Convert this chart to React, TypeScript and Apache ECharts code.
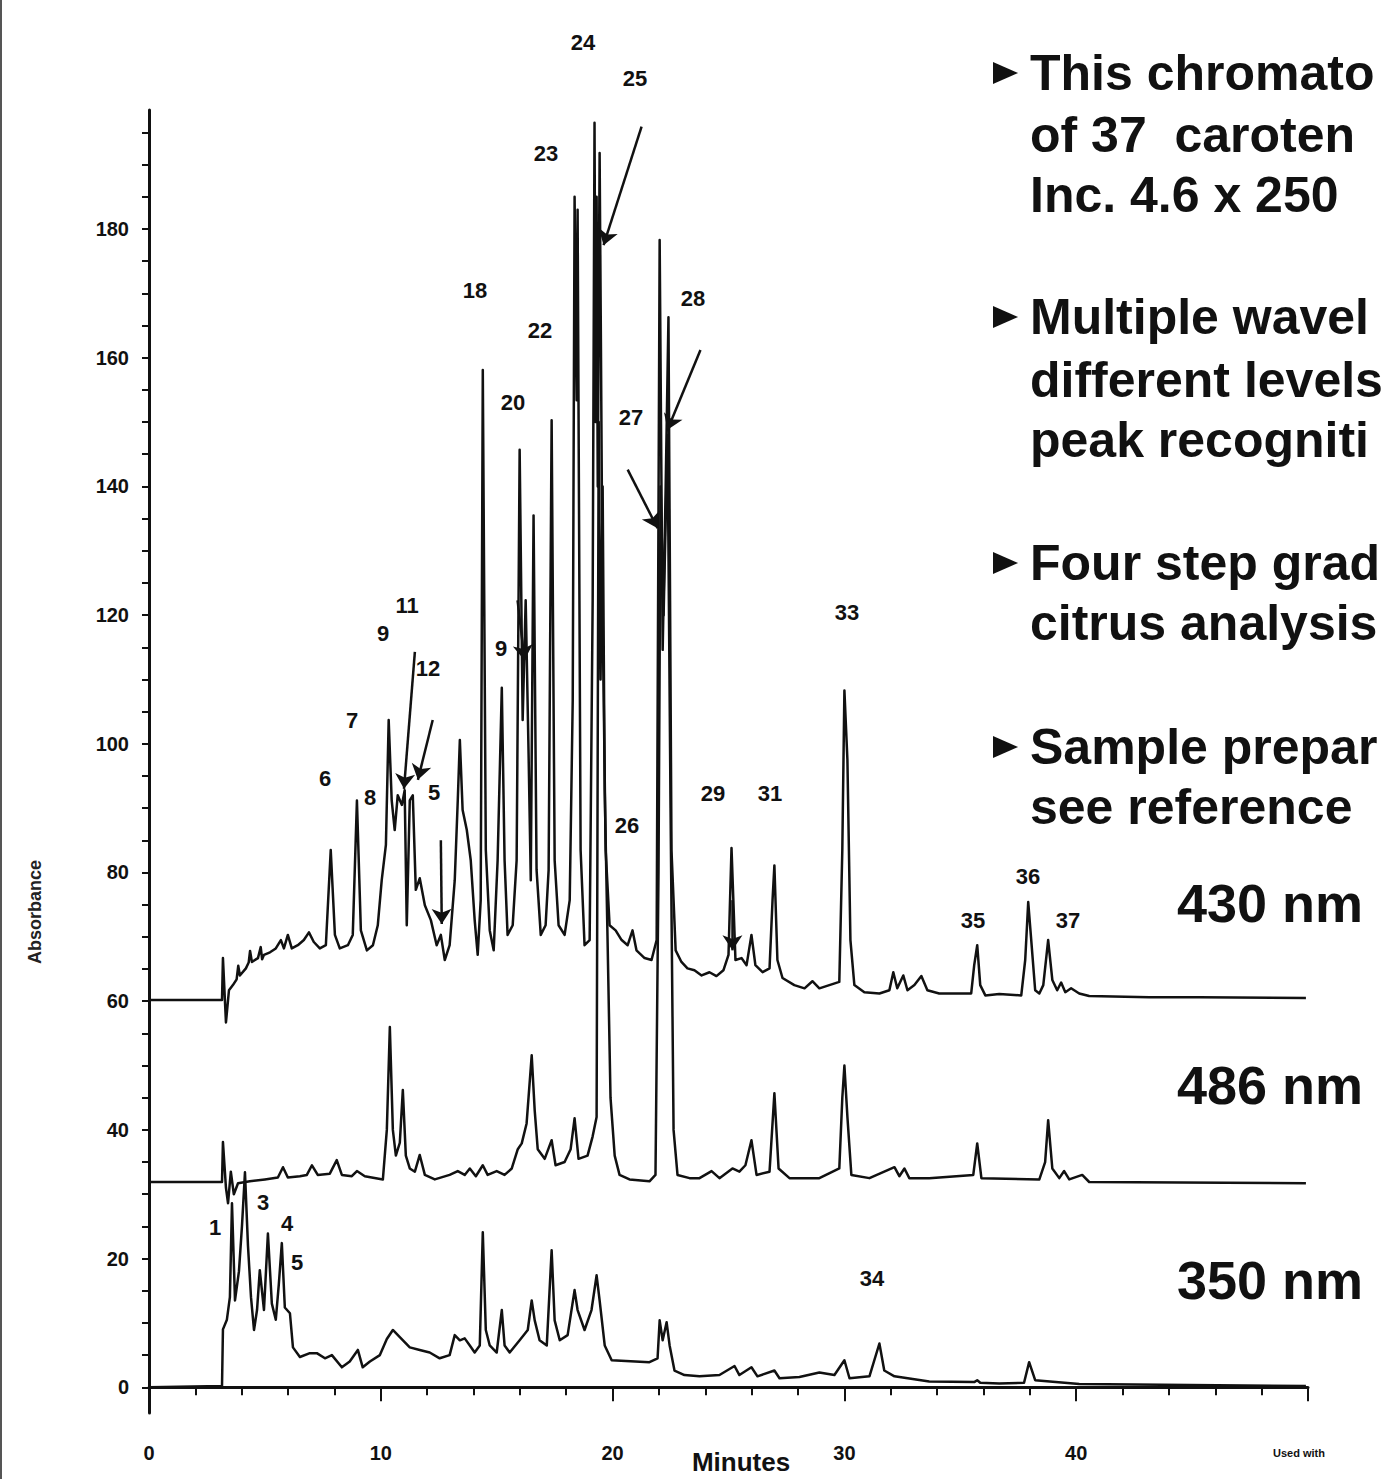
import React, { useEffect, useRef } from "react";
import * as echarts from "echarts";

// ---- 430 nm trace (minutes, absorbance) ----
const t430 = [0, 3.15, 3.19, 3.32, 3.45, 3.62, 3.78, 3.85, 3.92, 4.18, 4.3, 4.36, 4.44, 4.7, 4.82, 4.88, 4.96, 5.22, 5.47, 5.69, 5.82, 5.99, 6.16, 6.42, 6.68, 6.9, 7.11, 7.37, 7.63, 7.84, 8.02, 8.23, 8.58, 8.79, 8.97, 9.14, 9.4, 9.66, 9.87, 10.04, 10.22, 10.34, 10.47, 10.6, 10.73, 10.91, 11.03, 11.12, 11.25, 11.38, 11.51, 11.68, 11.9, 12.16, 12.41, 12.59, 12.76, 12.97, 13.19, 13.32, 13.41, 13.53, 13.71, 13.88, 14.05, 14.18, 14.31, 14.4, 14.53, 14.7, 14.87, 15.04, 15.22, 15.34, 15.47, 15.69, 15.86, 15.99, 16.12, 16.25, 16.38, 16.47, 16.59, 16.72, 16.9, 17.11, 17.24, 17.37, 17.5, 17.67, 17.93, 18.15, 18.28, 18.36, 18.45, 18.49, 18.62, 18.79, 19.01, 19.14, 19.22, 19.27, 19.31, 19.36, 19.44, 19.5, 19.57, 19.7, 19.87, 20.13, 20.39, 20.65, 20.86, 21.03, 21.38, 21.68, 21.9, 22.03, 22.16, 22.28, 22.41, 22.54, 22.72, 22.97, 23.23, 23.53, 23.84, 24.18, 24.48, 24.78, 25.0, 25.13, 25.3, 25.56, 25.78, 25.99, 26.16, 26.47, 26.77, 26.9, 26.98, 27.11, 27.33, 27.84, 28.28, 28.62, 28.92, 29.35, 29.78, 29.91, 30.0, 30.13, 30.26, 30.43, 30.86, 31.51, 31.94, 32.11, 32.28, 32.54, 32.72, 33.02, 33.32, 33.58, 34.09, 35.47, 35.6, 35.73, 35.86, 36.08, 36.68, 37.63, 37.8, 37.93, 38.06, 38.23, 38.41, 38.58, 38.79, 38.97, 39.18, 39.35, 39.53, 39.78, 40.13, 40.56, 43.15, 45.3, 49.91];
const a430 = [60.2, 60.2, 66.7, 56.7, 61.7, 62.5, 63.4, 65.5, 64.0, 65.1, 66.0, 67.8, 66.1, 66.7, 68.4, 66.5, 67.2, 67.6, 68.2, 69.5, 68.2, 70.3, 68.2, 68.7, 69.5, 70.7, 69.2, 68.2, 68.7, 83.5, 70.3, 68.2, 68.7, 70.3, 91.2, 71.0, 67.9, 68.7, 71.8, 78.8, 84.3, 103.7, 91.2, 86.6, 92.0, 90.5, 92.8, 71.8, 91.2, 92.0, 77.3, 79.1, 74.9, 72.6, 68.7, 70.3, 66.4, 68.7, 78.8, 91.2, 100.6, 89.7, 86.6, 81.9, 72.6, 67.2, 75.7, 158.1, 83.5, 71.0, 67.9, 81.9, 108.7, 81.9, 70.3, 71.8, 81.9, 145.7, 103.7, 122.3, 97.5, 78.8, 135.5, 80.4, 70.3, 71.8, 80.4, 150.3, 81.9, 71.8, 70.3, 75.7, 106.8, 185.0, 153.4, 183.0, 83.5, 68.7, 69.5, 122.3, 196.5, 150.0, 185.0, 140.0, 191.8, 160.0, 120.0, 83.5, 71.8, 71.0, 69.5, 68.7, 71.0, 67.9, 66.7, 66.4, 69.5, 178.3, 114.6, 137.9, 166.3, 83.5, 67.9, 66.1, 65.1, 64.8, 64.0, 64.5, 63.9, 64.8, 67.2, 83.8, 66.4, 66.7, 65.6, 70.3, 65.6, 64.5, 65.1, 75.7, 81.1, 66.4, 63.6, 62.5, 62.0, 63.1, 62.0, 62.5, 63.0, 83.5, 108.3, 97.5, 69.5, 62.5, 61.4, 61.2, 61.7, 64.5, 62.0, 64.0, 61.7, 62.5, 63.9, 61.7, 61.2, 61.2, 65.6, 68.7, 62.5, 60.9, 61.1, 60.9, 66.4, 75.4, 69.5, 61.7, 61.2, 62.5, 69.5, 63.3, 61.7, 62.9, 61.4, 62.0, 61.2, 60.8, 60.6, 60.6, 60.5];

// ---- 486 nm trace ----
const t486 = [0, 3.15, 3.19, 3.32, 3.41, 3.53, 3.66, 3.84, 4.35, 5.0, 5.56, 5.78, 5.99, 6.51, 6.81, 7.03, 7.28, 7.8, 8.1, 8.32, 8.75, 8.97, 9.31, 10.09, 10.26, 10.39, 10.52, 10.65, 10.82, 10.95, 11.08, 11.25, 11.47, 11.68, 11.9, 12.33, 12.97, 13.32, 13.62, 13.84, 14.1, 14.4, 14.61, 15.0, 15.34, 15.65, 15.91, 16.08, 16.29, 16.51, 16.64, 16.77, 17.07, 17.37, 17.54, 17.93, 18.19, 18.36, 18.53, 18.92, 19.14, 19.31, 19.4, 19.48, 19.57, 19.66, 19.78, 19.91, 20.09, 20.3, 20.73, 21.59, 21.85, 21.98, 22.07, 22.2, 22.37, 22.5, 22.63, 22.8, 23.32, 23.75, 24.27, 24.61, 25.17, 25.47, 25.73, 25.99, 26.21, 26.77, 26.98, 27.16, 27.63, 28.92, 29.78, 29.91, 30.0, 30.13, 30.3, 31.08, 32.16, 32.37, 32.59, 32.8, 33.66, 35.56, 35.73, 35.91, 38.41, 38.66, 38.79, 38.97, 39.27, 39.48, 39.7, 40.26, 40.56, 49.91];
const a486 = [31.9, 31.9, 38.1, 31.0, 28.6, 33.5, 30.0, 31.7, 32.0, 32.3, 32.6, 34.2, 32.6, 32.8, 33.0, 34.5, 33.0, 33.2, 35.3, 33.0, 32.8, 33.6, 32.8, 32.3, 40.0, 56.0, 40.0, 36.0, 38.0, 46.2, 36.0, 34.0, 33.5, 36.1, 33.0, 32.3, 33.0, 33.6, 33.0, 34.0, 32.8, 34.5, 33.0, 33.6, 33.0, 34.0, 37.0, 37.9, 41.0, 51.6, 43.0, 37.0, 35.5, 38.4, 34.5, 35.0, 37.0, 41.8, 35.5, 36.0, 39.0, 42.0, 150.0, 110.0, 140.0, 92.8, 70.0, 45.0, 36.0, 33.0, 32.3, 32.0, 33.0, 80.0, 140.0, 120.0, 148.0, 90.0, 40.0, 33.0, 32.5, 32.5, 33.6, 32.5, 34.0, 33.5, 34.5, 38.4, 33.0, 33.5, 45.7, 34.0, 32.5, 32.5, 34.0, 45.0, 50.0, 42.0, 33.0, 32.5, 34.2, 32.8, 34.0, 32.5, 32.5, 33.0, 37.9, 32.5, 32.3, 35.0, 41.5, 34.0, 32.5, 33.6, 32.3, 33.0, 31.9, 31.7];

// ---- 350 nm trace ----
const t350 = [0, 3.15, 3.19, 3.36, 3.49, 3.58, 3.71, 3.88, 4.01, 4.14, 4.27, 4.4, 4.53, 4.66, 4.78, 4.96, 5.13, 5.3, 5.47, 5.6, 5.73, 5.86, 6.08, 6.21, 6.51, 6.94, 7.24, 7.59, 7.89, 8.32, 8.66, 9.01, 9.22, 9.53, 9.96, 10.26, 10.52, 10.82, 11.25, 11.68, 12.11, 12.54, 12.97, 13.19, 13.41, 13.62, 13.84, 14.05, 14.27, 14.4, 14.53, 14.7, 15.0, 15.22, 15.34, 15.56, 15.99, 16.34, 16.51, 16.64, 16.85, 17.16, 17.37, 17.5, 17.72, 18.06, 18.36, 18.49, 18.79, 19.09, 19.31, 19.44, 19.66, 19.96, 21.59, 21.94, 22.03, 22.16, 22.33, 22.46, 22.67, 23.1, 23.75, 24.61, 25.26, 25.47, 25.99, 26.25, 26.98, 27.2, 28.06, 28.92, 29.57, 30.0, 30.22, 31.08, 31.51, 31.72, 32.16, 33.66, 35.6, 35.73, 35.86, 36.68, 37.75, 37.97, 38.23, 40.13, 49.91];
const a350 = [0, 0.2, 9.0, 10.5, 14.0, 28.6, 13.5, 18.0, 25.0, 33.4, 22.0, 14.0, 8.9, 12.0, 18.2, 12.0, 23.9, 13.0, 10.5, 16.0, 22.4, 12.4, 11.5, 6.2, 4.7, 5.3, 5.3, 4.5, 5.0, 3.1, 4.0, 5.8, 3.1, 4.0, 5.0, 7.5, 8.9, 7.8, 6.2, 5.8, 5.4, 4.5, 5.0, 8.1, 7.3, 7.6, 6.5, 5.4, 6.5, 24.1, 8.9, 6.5, 5.4, 12.0, 6.5, 5.4, 7.3, 8.9, 13.5, 10.4, 7.3, 6.5, 21.3, 10.4, 7.3, 8.1, 15.1, 12.0, 8.9, 12.0, 17.4, 13.5, 6.5, 4.2, 3.9, 4.5, 10.4, 7.3, 10.1, 6.5, 2.6, 1.9, 1.7, 1.9, 3.3, 1.9, 3.1, 1.7, 2.6, 1.4, 1.6, 2.3, 1.9, 4.2, 1.4, 1.7, 6.8, 2.6, 1.7, 0.9, 0.8, 1.1, 0.7, 0.6, 0.7, 3.9, 1.1, 0.5, 0.2];

// ---- arrows drawn on the chromatogram (start -> end, data units) ----
const arrowCoords = [
  [[21.25, 195.9], [19.61, 177.5]],
  [[23.79, 161.2], [22.37, 148.8]],
  [[20.65, 142.6], [21.94, 133.5]],
  [[11.47, 114.3], [11.0, 93.0]],
  [[12.24, 103.7], [11.6, 94.4]],
  [[12.59, 85.0], [12.63, 72.0]],
  [[15.9, 122.3], [16.2, 113.0]],
  [[25.17, 75.7], [25.17, 67.9]],
];

// ---- axis ticks ----
const yLabelValues = [0, 20, 40, 60, 80, 100, 120, 140, 160, 180];
const yTickValues = Array.from({ length: 40 }, (_, i) => i * 5);
const xLabelValues = [0, 10, 20, 30, 40];

// ---- peak numbers [label, px x, px y] ----
const peakLabels: [string, number, number][] = [
  ["24", 583, 42], ["25", 635, 78], ["23", 546, 153], ["18", 475, 290], ["28", 693, 298],
  ["22", 540, 330], ["20", 513, 402], ["27", 631, 417], ["11", 407, 605], ["9", 383, 633],
  ["33", 847, 612], ["12", 428, 668], ["9", 501, 648], ["7", 352, 720], ["6", 325, 778],
  ["8", 370, 797], ["5", 434, 792], ["29", 713, 793], ["31", 770, 793], ["26", 627, 825],
  ["36", 1028, 876], ["35", 973, 920], ["37", 1068, 920], ["1", 215, 1227], ["3", 263, 1202],
  ["4", 287, 1223], ["5", 297, 1262], ["34", 872, 1278],
];

// ---- bullet text lines [text, y, bullet] ----
const bulletLines: [string, number, boolean][] = [
  ["This chromato", 73, true],
  ["of 37  caroten", 135, false],
  ["Inc. 4.6 x 250", 195, false],
  ["Multiple wavel", 317, true],
  ["different levels", 380, false],
  ["peak recogniti", 440, false],
  ["Four step grad", 563, true],
  ["citrus analysis", 623, false],
  ["Sample prepar", 747, true],
  ["see reference", 807, false],
];

const wavelengthLabels: [string, number][] = [
  ["430 nm", 903],
  ["486 nm", 1085],
  ["350 nm", 1280],
];

const FONT = "'Liberation Sans', Arial, Helvetica, sans-serif";
const NARROW = "'Liberation Sans Narrow', 'Arial Narrow', 'Liberation Sans', Arial, sans-serif";

function zip(t: number[], a: number[]) {
  return t.map((x, i) => [x, a[i]]);
}

export default function App() {
  const ref = useRef<HTMLDivElement>(null);
  useEffect(() => {
    document.body.style.margin = "0";
    const chart = echarts.init(ref.current!, null, { renderer: "svg" });
    const lineStyle = { color: "#111", width: 2.5, join: "round" as const };
    const graphics: any[] = [];
    graphics.push({ type: "rect", shape: { x: 0, y: 0, width: 2, height: 1479 }, style: { fill: "#555" } });
    peakLabels.forEach(([txt, x, y]) => {
      graphics.push({
        type: "text", x, y, z: 10,
        style: { text: txt, fill: "#111", font: `bold 22px ${NARROW}`, align: "center", verticalAlign: "middle" },
      });
    });
    bulletLines.forEach(([txt, y, bullet]) => {
      graphics.push({
        type: "text", x: 1030, y,
        style: { text: txt, fill: "#111", font: `bold 50px ${FONT}`, align: "left", verticalAlign: "middle" },
      });
      if (bullet) {
        graphics.push({
          type: "polygon",
          shape: { points: [[993, y - 11], [1018, y], [993, y + 11]] },
          style: { fill: "#111" },
        });
      }
    });
    wavelengthLabels.forEach(([txt, y]) => {
      graphics.push({
        type: "text", x: 1177, y,
        style: { text: txt, fill: "#111", font: `bold 54px ${FONT}`, align: "left", verticalAlign: "middle" },
      });
    });
    graphics.push({
      type: "text", x: 741, y: 1462,
      style: { text: "Minutes", fill: "#111", font: `bold 26px ${NARROW}`, align: "center", verticalAlign: "middle" },
    });
    graphics.push({
      type: "text", x: 35, y: 912, rotation: Math.PI / 2,
      style: { text: "Absorbance", fill: "#222", font: `bold 18px ${FONT}`, align: "center", verticalAlign: "middle" },
    });
    graphics.push({
      type: "text", x: 1273, y: 1453,
      style: { text: "Used with", fill: "#111", font: `bold 11px ${FONT}`, align: "left", verticalAlign: "middle" },
    });

    chart.setOption({
      animation: false,
      backgroundColor: "#fff",
      textStyle: { fontFamily: FONT },
      grid: { left: 149, top: 110, width: 1159, height: 1303, containLabel: false },
      xAxis: {
        type: "value", min: 0, max: 50, interval: 10,
        axisLine: { lineStyle: { color: "#111", width: 3 } },
        axisTick: { show: true, length: 14, lineStyle: { color: "#111", width: 2 } },
        minorTick: { show: true, splitNumber: 5, length: 8, lineStyle: { color: "#111", width: 2 } },
        splitLine: { show: false },
        axisLabel: {
          margin: 30, color: "#111", fontSize: 20, fontWeight: "bold", fontFamily: NARROW,
          customValues: xLabelValues,
          formatter: (v: number) => (v >= 50 ? "" : String(v)),
        },
      },
      yAxis: {
        type: "value", min: -4, max: 198.5,
        axisLine: { show: true, lineStyle: { color: "#111", width: 3 } },
        axisTick: { show: true, length: 7, customValues: yTickValues, lineStyle: { color: "#111", width: 2 } },
        splitLine: { show: false },
        axisLabel: { margin: 20, color: "#111", fontSize: 20, fontWeight: "bold", fontFamily: NARROW, customValues: yLabelValues },
      },
      graphic: graphics,
      series: [
        { type: "line", name: "430 nm", data: zip(t430, a430), showSymbol: false, lineStyle, z: 3 },
        { type: "line", name: "486 nm", data: zip(t486, a486), showSymbol: false, lineStyle, z: 3 },
        { type: "line", name: "350 nm", data: zip(t350, a350), showSymbol: false, lineStyle, z: 3 },
        {
          type: "lines", coordinateSystem: "cartesian2d", z: 4,
          symbol: ["none", "arrow"], symbolSize: 15,
          lineStyle: { color: "#111", width: 2.5, opacity: 1, curveness: 0 },
          data: arrowCoords.map((c) => ({ coords: c })),
        },
      ],
    });
    return () => chart.dispose();
  }, []);
  return (
    <div
      ref={ref}
      style={{ position: "absolute", left: 0, top: 0, width: 1384, height: 1479, overflow: "hidden", background: "#fff" }}
    />
  );
}
